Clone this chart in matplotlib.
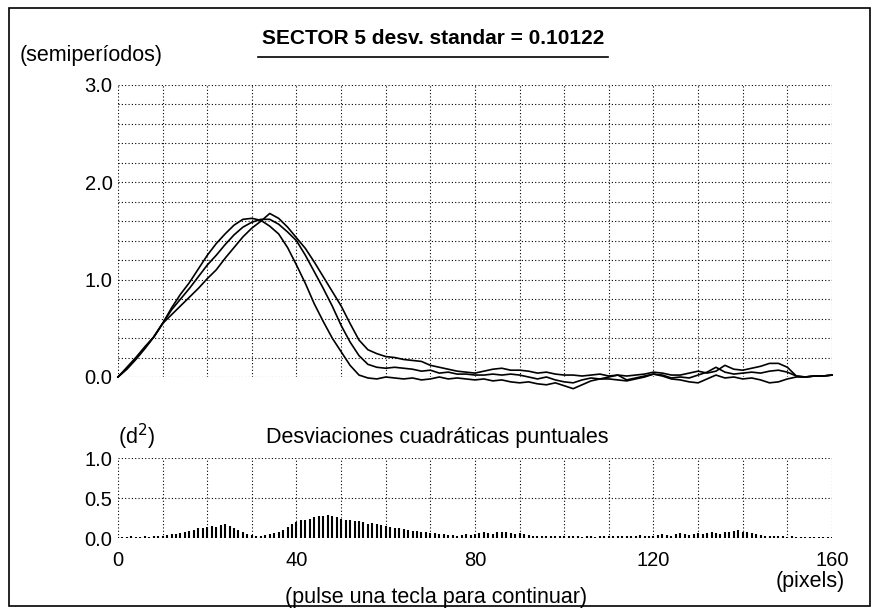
import matplotlib.pyplot as plt
import numpy as np

plt.rcParams['font.family'] = ['Liberation Sans', 'DejaVu Sans']

# eje x de las curvas (pixels), cada 2
x_curvas = np.arange(0, 161, 2)

curva_a = [0.00, 0.09, 0.19, 0.30, 0.41, 0.55, 0.71, 0.85, 0.97, 1.11,
           1.25, 1.37, 1.47, 1.56, 1.62, 1.63, 1.61, 1.55, 1.47, 1.33,
           1.15, 0.96, 0.75, 0.57, 0.40, 0.26, 0.12, 0.02, -0.01, -0.02,
           0.00, -0.01, -0.02, -0.01, -0.03, -0.02, 0.00, -0.02, -0.01, -0.02,
           -0.03, -0.02, -0.04, -0.03, -0.05, -0.06, -0.05, -0.07, -0.08, -0.06,
           -0.09, -0.12, -0.08, -0.04, -0.02, -0.02, -0.03, -0.04, -0.02, 0.00,
           0.03, 0.01, -0.02, -0.03, -0.05, -0.06, -0.02, 0.02, -0.01, 0.00,
           -0.02, -0.01, -0.03, -0.06, -0.05, -0.02, 0.00, 0.00, 0.01, 0.01,
           0.02]

curva_b = [0.00, 0.10, 0.20, 0.31, 0.41, 0.55, 0.69, 0.80, 0.91, 1.03,
           1.15, 1.25, 1.36, 1.46, 1.54, 1.59, 1.62, 1.62, 1.57, 1.49,
           1.40, 1.25, 1.08, 0.91, 0.73, 0.53, 0.36, 0.22, 0.13, 0.10,
           0.09, 0.10, 0.09, 0.08, 0.06, 0.07, 0.04, 0.05, 0.03, 0.03,
           0.02, 0.02, 0.03, 0.02, 0.03, 0.02, 0.00, -0.02, 0.00, -0.03,
           -0.05, -0.06, -0.03, -0.01, -0.02, 0.00, 0.02, -0.03, -0.01, 0.01,
           0.03, 0.02, -0.01, 0.00, -0.01, 0.02, 0.05, 0.10, 0.05, 0.03,
           0.04, 0.05, 0.04, 0.06, 0.07, 0.05, 0.01, 0.00, 0.01, 0.01,
           0.02]

curva_c = [0.00, 0.08, 0.18, 0.29, 0.41, 0.55, 0.64, 0.73, 0.82, 0.91,
           1.01, 1.10, 1.22, 1.33, 1.44, 1.53, 1.60, 1.68, 1.63, 1.54,
           1.43, 1.32, 1.18, 1.03, 0.88, 0.73, 0.55, 0.38, 0.28, 0.24,
           0.21, 0.20, 0.18, 0.17, 0.16, 0.12, 0.10, 0.08, 0.06, 0.05,
           0.04, 0.06, 0.08, 0.09, 0.07, 0.07, 0.06, 0.04, 0.05, 0.03,
           0.02, 0.02, 0.01, 0.02, 0.03, 0.01, 0.02, 0.01, 0.02, 0.03,
           0.05, 0.04, 0.02, 0.02, 0.04, 0.06, 0.04, 0.06, 0.12, 0.08,
           0.07, 0.09, 0.11, 0.14, 0.14, 0.10, 0.01, 0.00, 0.01, 0.01,
           0.02]

# desviaciones cuadraticas, cada pixel
x_desv = np.arange(0, 161)
desv = [0.01, 0.01, 0.01, 0.02, 0.01, 0.01, 0.02, 0.01, 0.02, 0.03,
        0.03, 0.04, 0.05, 0.05, 0.06, 0.07, 0.09, 0.10, 0.12, 0.13,
        0.14, 0.15, 0.14, 0.16, 0.17, 0.15, 0.13, 0.10, 0.07, 0.05,
        0.04, 0.03, 0.03, 0.04, 0.05, 0.06, 0.08, 0.10, 0.14, 0.18,
        0.20, 0.22, 0.23, 0.24, 0.26, 0.27, 0.28, 0.29, 0.27, 0.26,
        0.24, 0.23, 0.22, 0.21, 0.21, 0.20, 0.18, 0.19, 0.17, 0.16,
        0.15, 0.14, 0.13, 0.12, 0.11, 0.10, 0.09, 0.09, 0.08, 0.07,
        0.06, 0.06, 0.05, 0.05, 0.04, 0.04, 0.03, 0.04, 0.05, 0.04,
        0.05, 0.06, 0.07, 0.06, 0.05, 0.07, 0.08, 0.07, 0.06, 0.05,
        0.06, 0.05, 0.04, 0.03, 0.03, 0.02, 0.03, 0.02, 0.02, 0.03,
        0.02, 0.03, 0.02, 0.02, 0.01, 0.02, 0.02, 0.01, 0.02, 0.02,
        0.02, 0.03, 0.02, 0.02, 0.03, 0.02, 0.03, 0.04, 0.03, 0.02,
        0.03, 0.04, 0.05, 0.04, 0.03, 0.05, 0.06, 0.05, 0.04, 0.05,
        0.06, 0.05, 0.06, 0.07, 0.06, 0.05, 0.07, 0.08, 0.09, 0.10,
        0.08, 0.07, 0.06, 0.05, 0.04, 0.03, 0.03, 0.02, 0.02, 0.02,
        0.01, 0.02, 0.01, 0.01, 0.01, 0.01, 0.01, 0.01, 0.01, 0.01,
        0.01]

ticks_sup = [0.0, 1.0, 2.0, 3.0]
ticks_inf = [0.0, 0.5, 1.0]
ticks_x = [0, 40, 80, 120, 160]

W, H = 879, 614
fig = plt.figure(figsize=(W / 100, H / 100), dpi=100)
fs = 15.5
fs_ticks = 14.5

def caja(x0, y0, x1, y1):
    # pixel coords (from top-left) -> figure axes rect
    return [x0 / W, 1 - y1 / H, (x1 - x0) / W, (y1 - y0) / H]

def rejilla(ax, ys):
    for s in ax.spines.values():
        s.set_visible(False)
    for xv in range(0, 161, 10):
        ax.axvline(xv, color='black', ls=(0, (1, 2)), lw=0.8, zorder=0)
    for yv in ys:
        ax.axhline(yv, color='black', ls=(0, (1, 2)), lw=0.8, zorder=0)
    ax.tick_params(length=0, labelsize=fs_ticks, pad=4)

# panel superior
ax1 = fig.add_axes(caja(118, 85, 832, 377))
ax1.set_xlim(0, 160)
ax1.set_ylim(0, 3.0)
rejilla(ax1, np.arange(0, 3.01, 0.2))
for c in (curva_a, curva_b, curva_c):
    ax1.plot(x_curvas, c, color='black', lw=1.2, clip_on=False)
ax1.set_yticks(ticks_sup)
ax1.set_yticklabels([f"{t:.1f}" for t in ticks_sup])
ax1.set_xticks([])

# panel inferior
ax2 = fig.add_axes(caja(118, 458, 832, 538))
ax2.set_xlim(0, 160)
ax2.set_ylim(0, 1.0)
rejilla(ax2, [0, 0.5, 1.0])
ax2.vlines(x_desv, 0, desv, color='black', lw=1.5)
ax2.set_yticks(ticks_inf)
ax2.set_yticklabels([f"{t:.1f}" for t in ticks_inf])
ax2.set_xticks(ticks_x)
ax2.set_xticklabels([str(t) for t in ticks_x])
ax2.tick_params(axis='x', pad=9)

# textos
fig.text(20 / W, 1 - 55 / H, "(semiperíodos)", fontsize=fs, va='center', ha='left')
fig.text(433 / W, 1 - 38 / H, "SECTOR 5 desv. standar = 0.10122", fontsize=15,
         fontweight='bold', ha='center', va='center')
fig.add_artist(plt.Line2D([258 / W, 608 / W], [1 - 57 / H, 1 - 57 / H],
                          color='black', lw=1.2))
fig.text(118 / W, 1 - 437 / H, "(d$^2$)", fontsize=fs, ha='left', va='center')
fig.text(437 / W, 1 - 437 / H, "Desviaciones cuadráticas puntuales", fontsize=fs,
         ha='center', va='center')
fig.text(845 / W, 1 - 581 / H, "(pixels)", fontsize=fs, ha='right', va='center')
fig.text(436 / W, 1 - 597 / H, "(pulse una tecla para continuar)", fontsize=fs,
         ha='center', va='center')

# marco
fig.add_artist(plt.Rectangle((9 / W, 1 - 606 / H), 861 / W, 598 / H,
                             fill=False, color='black', lw=1.2))

fig.savefig("out.png", dpi=100)
